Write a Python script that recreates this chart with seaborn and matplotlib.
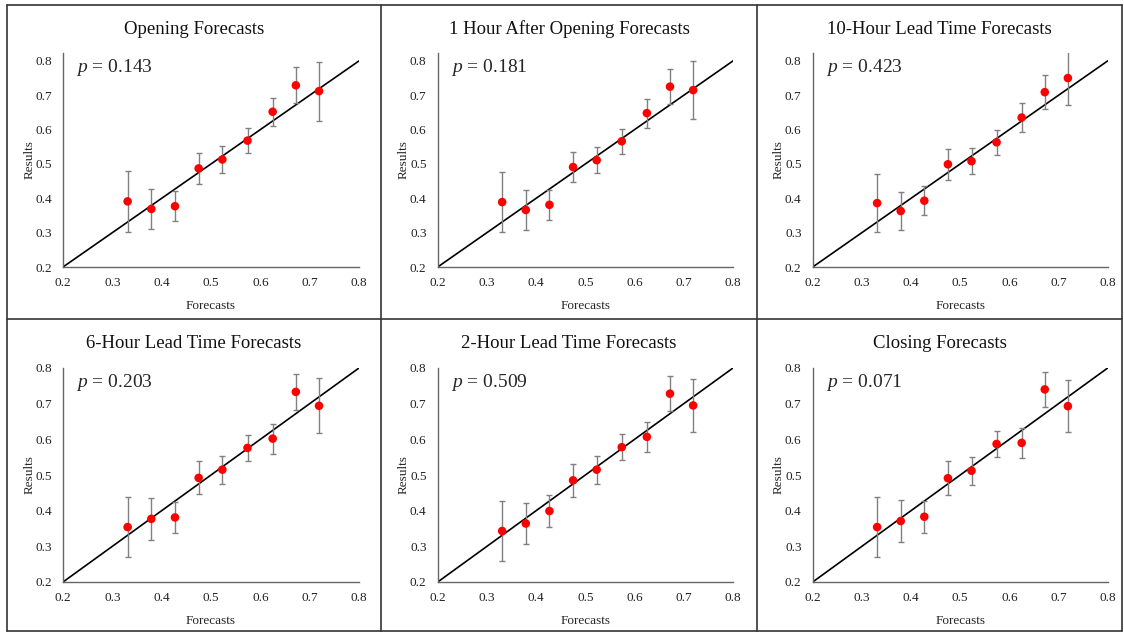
import numpy as np
import seaborn as sns
import matplotlib.pyplot as plt
from matplotlib.lines import Line2D

# forecast bin centres (shared by every panel)
forecasts = [0.331, 0.379, 0.427, 0.475, 0.523, 0.574, 0.625, 0.672, 0.719]

titles = [
    "Opening Forecasts",
    "1 Hour After Opening Forecasts",
    "10-Hour Lead Time Forecasts",
    "6-Hour Lead Time Forecasts",
    "2-Hour Lead Time Forecasts",
    "Closing Forecasts",
]
p_values = ["0.143", "0.181", "0.423", "0.203", "0.509", "0.071"]

results_opening = [0.391, 0.369, 0.377, 0.487, 0.513, 0.568, 0.652, 0.729, 0.712]
results_1h_after = [0.389, 0.366, 0.381, 0.491, 0.511, 0.566, 0.648, 0.725, 0.715]
results_10h_lead = [0.386, 0.363, 0.393, 0.499, 0.508, 0.563, 0.635, 0.709, 0.750]
results_6h_lead = [0.354, 0.377, 0.381, 0.492, 0.515, 0.576, 0.602, 0.733, 0.694]
results_2h_lead = [0.343, 0.364, 0.399, 0.485, 0.515, 0.578, 0.607, 0.728, 0.695]
results_closing = [0.354, 0.371, 0.383, 0.491, 0.512, 0.587, 0.590, 0.740, 0.693]

err_opening = [0.089, 0.057, 0.044, 0.045, 0.039, 0.037, 0.041, 0.053, 0.086]
err_1h_after = [0.087, 0.057, 0.044, 0.045, 0.038, 0.037, 0.042, 0.051, 0.084]
err_10h_lead = [0.084, 0.056, 0.043, 0.045, 0.038, 0.037, 0.041, 0.049, 0.079]
err_6h_lead = [0.085, 0.058, 0.044, 0.046, 0.039, 0.036, 0.042, 0.050, 0.077]
err_2h_lead = [0.084, 0.057, 0.044, 0.046, 0.039, 0.037, 0.042, 0.049, 0.074]
err_closing = [0.084, 0.058, 0.045, 0.047, 0.039, 0.037, 0.043, 0.049, 0.073]

results = [results_opening, results_1h_after, results_10h_lead,
           results_6h_lead, results_2h_lead, results_closing]
errors = [err_opening, err_1h_after, err_10h_lead,
          err_6h_lead, err_2h_lead, err_closing]

ticks = [0.2, 0.3, 0.4, 0.5, 0.6, 0.7, 0.8]
ref = [0.2, 0.8]

sns.set_style("white")
plt.rcParams['font.family'] = ['Liberation Serif', 'DejaVu Serif']
plt.rcParams['mathtext.fontset'] = 'custom'
plt.rcParams['mathtext.it'] = 'Liberation Serif:italic'
plt.rcParams['mathtext.rm'] = 'Liberation Serif'

W, H = 1124, 632
fig = plt.figure(figsize=(W / 100, H / 100), dpi=100)

lefts = [63, 437.7, 812.7]
widths = [296, 295.3, 295]
bottoms = [267, 582]   # pixel row of y = 0.2
ytops = [0.823, 0.8]
cell_x = [7, 381, 757, 1122]
title_y = [29, 344]

for i in range(6):
    row, col = divmod(i, 3)
    ax_h = 214
    ax = fig.add_axes([lefts[col] / W, (H - bottoms[row]) / H,
                       widths[col] / W, ax_h / H])

    sns.lineplot(x=ref, y=ref, ax=ax, color='black', linewidth=1.2, zorder=2)
    ax.errorbar(forecasts, results[i], yerr=errors[i], fmt='none',
                ecolor='#808080', elinewidth=1.0, capsize=2.5, capthick=1.0,
                zorder=3)
    sns.scatterplot(x=forecasts, y=results[i], ax=ax, color='#ff0000',
                    s=38, edgecolor='none', zorder=4)

    ax.set_xlim(0.2, 0.8)
    ax.set_ylim(0.2, ytops[row])
    ax.set_xticks(ticks)
    ax.set_yticks(ticks)
    ax.set_xticklabels([f"{t:.1f}" for t in ticks])
    ax.set_yticklabels([f"{t:.1f}" for t in ticks])
    ax.tick_params(length=0, labelsize=9.5, labelcolor='#222222')
    ax.tick_params(axis='y', pad=8)
    ax.tick_params(axis='x', pad=7)
    for side in ['top', 'right']:
        ax.spines[side].set_visible(False)
    for side in ['left', 'bottom']:
        ax.spines[side].set_color('#666666')
        ax.spines[side].set_linewidth(1.0)

    ax.set_xlabel("Forecasts", fontsize=9.5, labelpad=8)
    ax.set_ylabel("Results", fontsize=9.5, labelpad=0)
    fig.text((cell_x[col] + cell_x[col + 1]) / 2 / W, 1 - title_y[row] / H,
             titles[i], fontsize=13.5, ha='center', va='center',
             color='#111111')
    ax.text(0.045, 0.93, r'$p$ = ' + p_values[i], transform=ax.transAxes,
            fontsize=14, va='center', ha='left')

# cell borders around the panels
border = '#333333'
for x0, y0, x1, y1 in [(7, 5, 1122, 5), (7, 631, 1122, 631),
                       (7, 5, 7, 631), (1122, 5, 1122, 631),
                       (381, 5, 381, 631), (757, 5, 757, 631),
                       (7, 319, 1122, 319)]:
    fig.add_artist(Line2D([x0 / W, x1 / W], [1 - y0 / H, 1 - y1 / H],
                          color=border, linewidth=1.2))

fig.savefig("out.png", dpi=100)
